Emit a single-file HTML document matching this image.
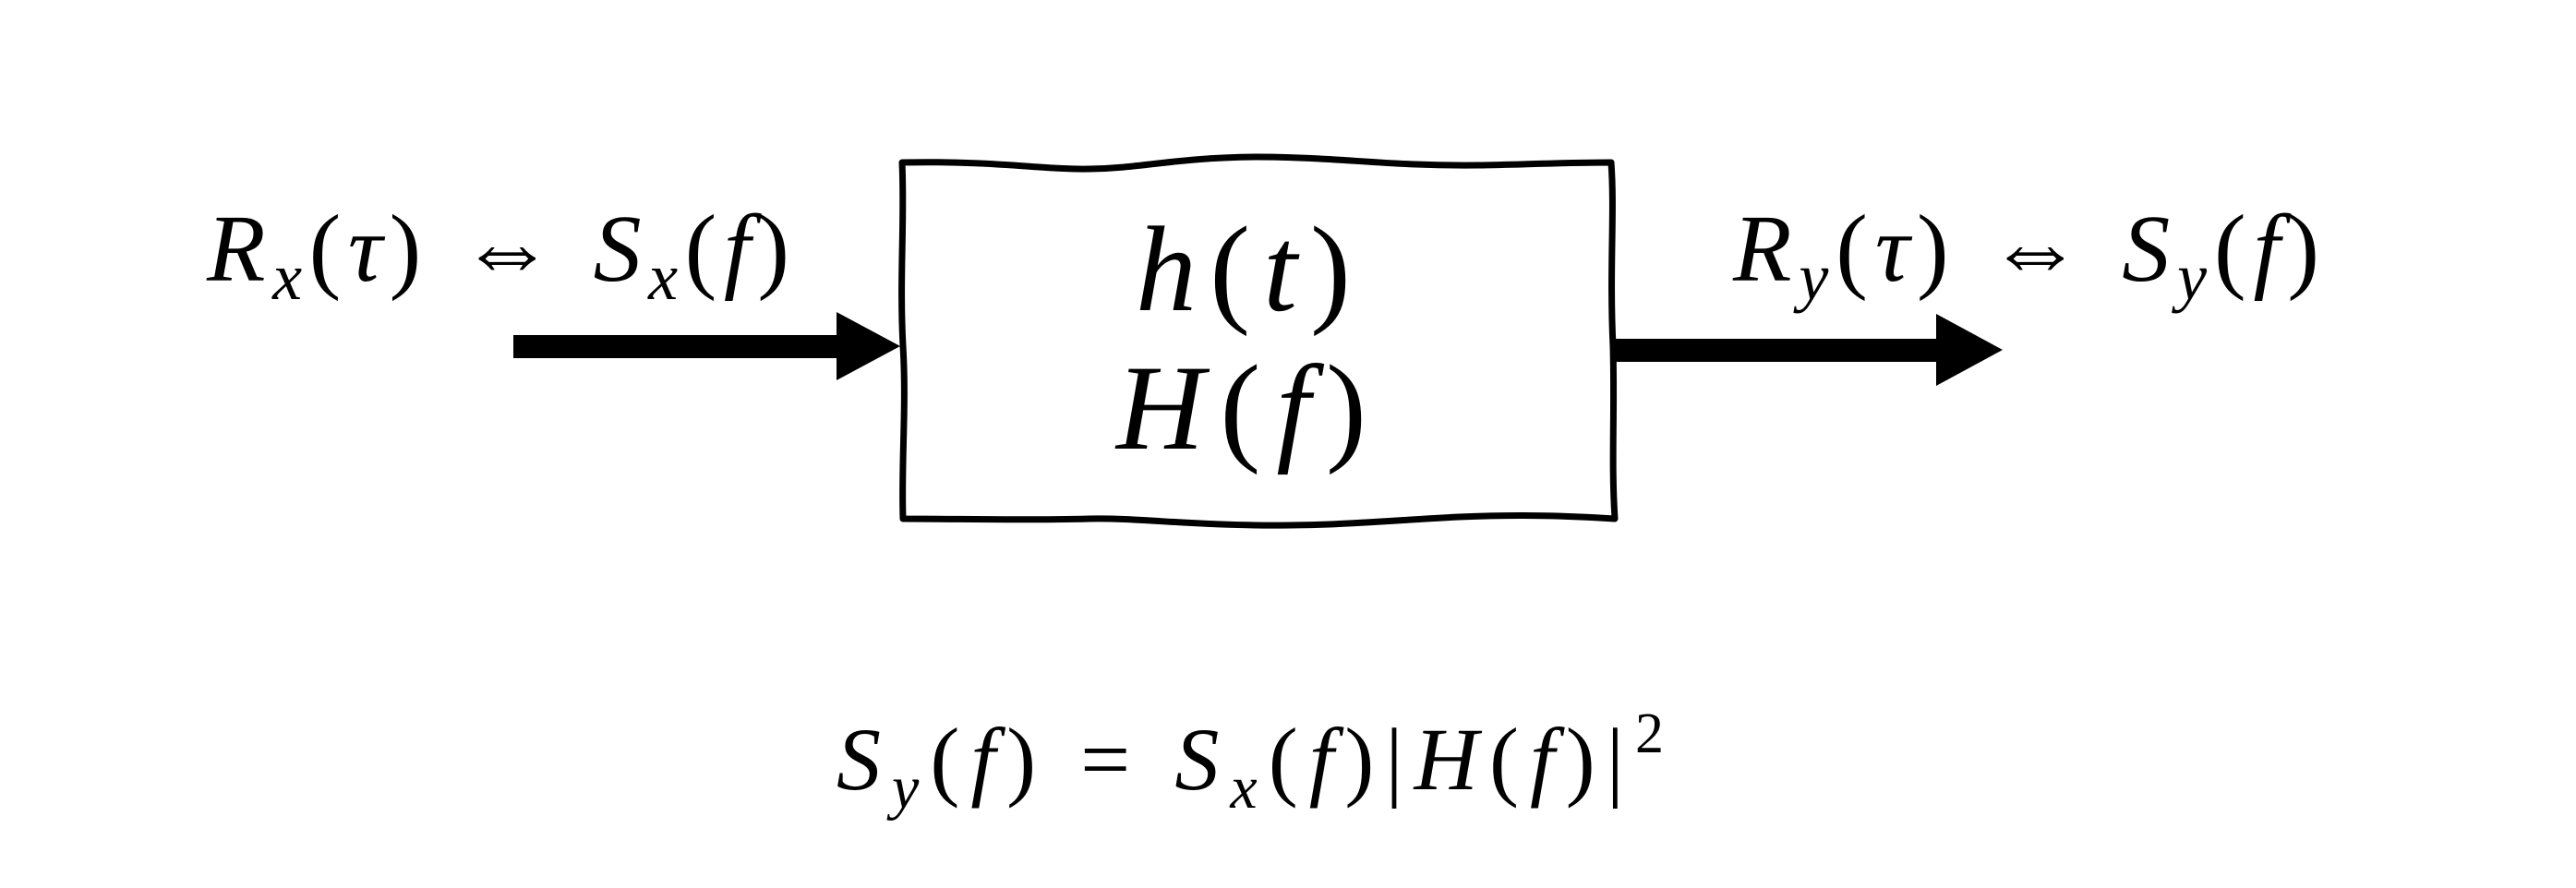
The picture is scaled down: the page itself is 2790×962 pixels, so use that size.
<!DOCTYPE html>
<html><head><style>
html,body{margin:0;padding:0;background:#fff;}
svg{display:block}
text{font-family:"Liberation Serif",serif;font-style:italic;fill:#000}
</style></head><body>
<svg width="2790" height="962" viewBox="0 0 2790 962">
<rect width="2790" height="962" fill="#fff"/>
<path d="M977,176 C1080,174 1130,184 1180,183 C1240,182 1270,171 1360,170 C1450,170 1500,180 1600,179 C1660,178 1700,176 1745,176
 C1749,230 1743,290 1747,375 C1749,450 1745,500 1749,562
 C1700,559 1650,557 1580,560 C1500,564 1450,570 1360,569 C1280,568 1230,561 1180,562 C1100,564 1040,562 978,562
 C976,500 982,440 978,375 C974,300 980,240 977,176 Z" fill="none" stroke="#000" stroke-width="7" stroke-linejoin="round"/>
<rect x="556" y="363" width="356" height="25" fill="#000"/>
<polygon points="906,338 975,375 906,412" fill="#000"/>
<rect x="1749" y="367" width="353" height="25" fill="#000"/>
<polygon points="2097,340 2169,379 2097,418" fill="#000"/>
<text x="224" y="304" font-size="104" textLength="631" lengthAdjust="spacing">R<tspan font-size="72" dy="20">x</tspan><tspan font-style="normal" dy="-20">(</tspan>τ<tspan font-style="normal">)</tspan><tspan font-style="normal"> ⇔ </tspan>S<tspan font-size="72" dy="20">x</tspan><tspan font-style="normal" dy="-20">(</tspan>f<tspan font-style="normal">)</tspan></text>
<text x="1877" y="304" font-size="104" textLength="635" lengthAdjust="spacing">R<tspan font-size="72" dy="20">y</tspan><tspan font-style="normal" dy="-20">(</tspan>τ<tspan font-style="normal">)</tspan><tspan font-style="normal"> ⇔ </tspan>S<tspan font-size="72" dy="20">y</tspan><tspan font-style="normal" dy="-20">(</tspan>f<tspan font-style="normal">)</tspan></text>
<text x="1230" y="336" font-size="132" textLength="233" lengthAdjust="spacing">h<tspan font-style="normal">(</tspan>t<tspan font-style="normal">)</tspan></text>
<text x="1209" y="486" font-size="132" textLength="271" lengthAdjust="spacing">H<tspan font-style="normal">(</tspan>f<tspan font-style="normal">)</tspan></text>
<text x="906" y="855" font-size="96" textLength="896" lengthAdjust="spacing">S<tspan font-size="66" dy="20">y</tspan><tspan font-style="normal" dy="-20">(</tspan>f<tspan font-style="normal">) = </tspan>S<tspan font-size="66" dy="20">x</tspan><tspan font-style="normal" dy="-20">(</tspan>f<tspan font-style="normal">)|</tspan>H<tspan font-style="normal">(</tspan>f<tspan font-style="normal">)|</tspan><tspan font-style="normal" font-size="62" dy="-40">2</tspan></text>
</svg>
</body></html>
